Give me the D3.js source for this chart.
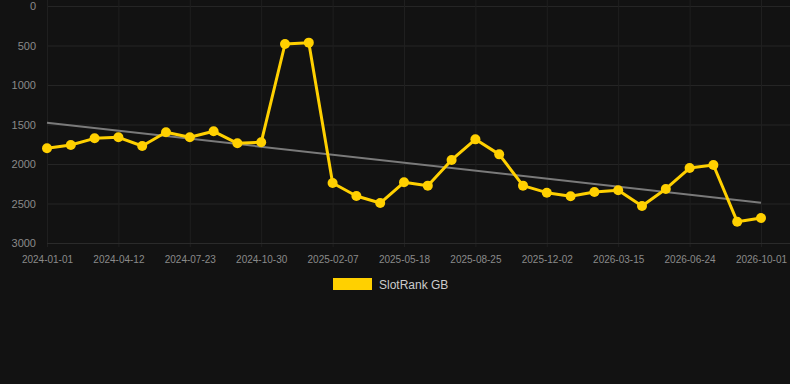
<!DOCTYPE html>
<html>
<head>
<meta charset="utf-8">
<script src="https://cdn.jsdelivr.net/npm/d3@7"></script>
<style>
  html, body { margin: 0; padding: 0; background: #121212; }
  svg { display: block; }
</style>
</head>
<body>
<svg id="chart" width="790" height="384"></svg>
<script>
const seriesName = "SlotRank GB";
const rankValues = [1801, 1759, 1675, 1662, 1772, 1599, 1662, 1586, 1738, 1725,
  481, 464, 2241, 2405, 2494, 2232, 2274, 1949, 1688, 1878,
  2274, 2363, 2409, 2354, 2333, 2532, 2316, 2051, 2013, 2730, 2684];
const xTickLabels = ["2024-01-01", "2024-04-12", "2024-07-23", "2024-10-30", "2025-02-07",
  "2025-05-18", "2025-08-25", "2025-12-02", "2026-03-15", "2026-06-24", "2026-10-01"];
const xTickIndices = [0, 3, 6, 9, 12, 15, 18, 21, 24, 27, 30];
const yTicks = [0, 500, 1000, 1500, 2000, 2500, 3000];
const trendValues = [1477, 2490];

const svg = d3.select("#chart");
const W = 790, H = 384;
const mLeft = 47, mRight = 761, mTop = 6, mBottom = 243;

const x = d3.scaleLinear().domain([0, rankValues.length - 1]).range([mLeft, mRight]);
const y = d3.scaleLinear().domain([0, 3000]).range([mTop, mBottom]);

svg.append("rect").attr("width", W).attr("height", H).attr("fill", "#121212");

// horizontal grid
const yAxis = d3.axisLeft(y).tickValues(yTicks).tickSize(-(W - mLeft)).tickPadding(11).tickFormat(d3.format("d"));
const gy = svg.append("g").attr("transform", `translate(${mLeft},0)`).call(yAxis);
gy.select(".domain").remove();
gy.selectAll(".tick line").attr("stroke", "#252525").attr("stroke-width", 1);
gy.selectAll(".tick text").attr("fill", "#8a8a8a").attr("font-family", "Arial, 'Liberation Sans', sans-serif").attr("font-size", 11);

// vertical grid + x labels
const xAxis = d3.axisBottom(x).tickValues(xTickIndices).tickSize(0).tickPadding(10)
  .tickFormat((d, i) => xTickLabels[i]);
const gx = svg.append("g").attr("transform", `translate(0,${mBottom})`).call(xAxis);
gx.select(".domain").remove();
gx.selectAll(".tick line").attr("stroke", "#1f1f1f").attr("stroke-width", 1).attr("y2", -mBottom).attr("y1", 4);
gx.selectAll(".tick text").attr("fill", "#8a8a8a").attr("font-family", "Arial, 'Liberation Sans', sans-serif").attr("font-size", 10).attr("dy", "0.35em").attr("y", 16);

// bottom axis line
svg.append("line").attr("x1", mLeft).attr("x2", W).attr("y1", mBottom + 0.5).attr("y2", mBottom + 0.5).attr("stroke", "#2a2a2a");

// trend line
svg.append("line")
  .attr("x1", x(0)).attr("y1", y(trendValues[0]))
  .attr("x2", x(rankValues.length - 1)).attr("y2", y(trendValues[1]))
  .attr("stroke", "#7a7a7a").attr("stroke-width", 2);

// series line
const line = d3.line().x((d, i) => x(i)).y(d => y(d));
svg.append("path").datum(rankValues).attr("d", line)
  .attr("fill", "none").attr("stroke", "#FFD000").attr("stroke-width", 3).attr("stroke-linejoin", "round");

svg.append("g").selectAll("circle").data(rankValues).join("circle")
  .attr("cx", (d, i) => x(i)).attr("cy", d => y(d)).attr("r", 5).attr("fill", "#FFD000");

// legend
svg.append("rect").attr("x", 333).attr("y", 278).attr("width", 39).attr("height", 12).attr("fill", "#FFD000");
svg.append("text").attr("x", 379).attr("y", 288.5).text(seriesName)
  .attr("fill", "#cccccc").attr("font-family", "Arial, 'Liberation Sans', sans-serif").attr("font-size", 12);
</script>
</body>
</html>
